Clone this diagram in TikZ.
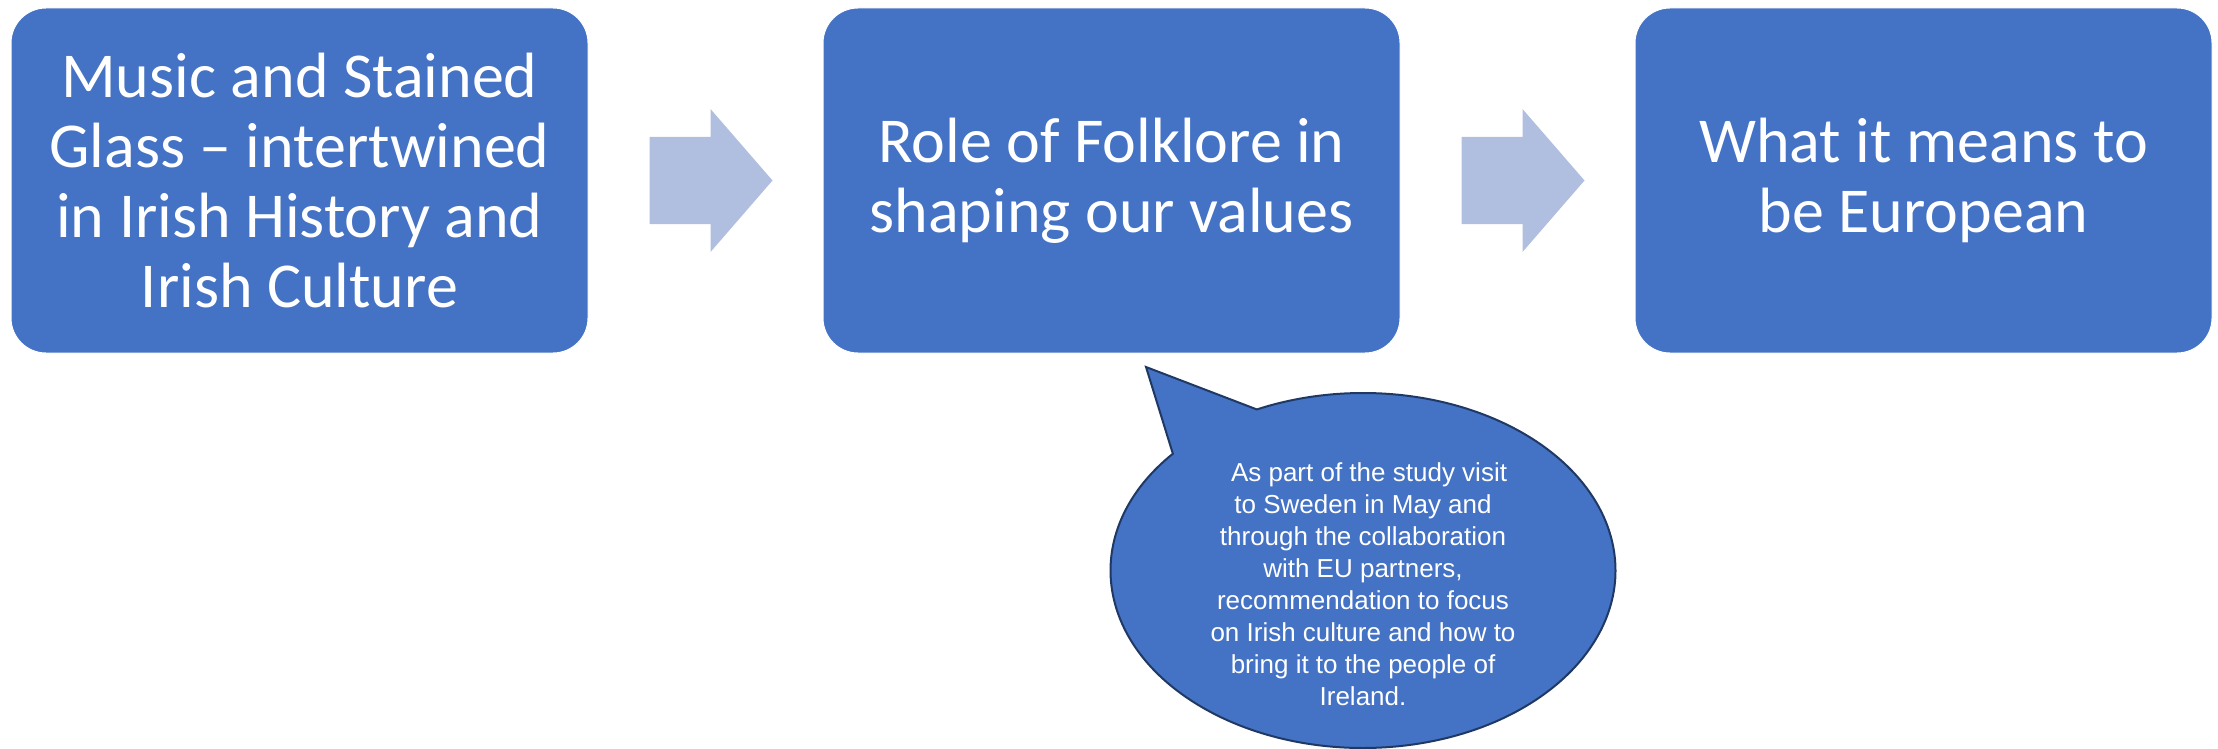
\documentclass[tikz,border=0pt]{standalone}
\usepackage{fontspec}
\setmainfont{Carlito}
\newfontfamily\calloutfont{Liberation Sans}
\usetikzlibrary{calc,shapes.callouts,positioning}

\definecolor{boxblue}{RGB}{68,114,196}
\definecolor{arrowblue}{RGB}{176,190,224}
\definecolor{rimblue}{RGB}{32,56,100}

\tikzset{
    stagebox/.style={fill=boxblue, draw=white, line width=1pt, rounded corners=35pt,
        minimum width=577pt, minimum height=345pt, inner sep=0pt, align=center,
        text=white, font=\fontsize{64}{70}\selectfont},
    flowarrow/.style={fill=arrowblue},
    bubble/.style={ellipse callout, fill=boxblue, draw=rimblue, line width=2pt,
        minimum width=505pt, minimum height=355pt, inner sep=0pt,
        callout pointer arc=24},
}

\begin{document}
\begin{tikzpicture}[x=1pt,y=-1pt]
            \useasboundingbox (0,0) rectangle (2218,749);
            \node[stagebox] (music) at (299.5,180.5)
                {Music and Stained\\Glass -- intertwined\\in Irish History and\\Irish Culture};
            \node[stagebox] (folklore) at (1111.5,180.5)
                {Role of Folklore in\\shaping our values};
            \node[stagebox] (european) at (1923.5,180.5)
                {What it means to\\be European};
            % block arrows between the stages
            \foreach \from in {music,folklore}
                {
                \fill[flowarrow] ($(\from.east)+(61,-43.5)$) -- ++(61,0) -- ++(0,-28)
                    -- ++(62,71.5) -- ++(-62,71.5) -- ++(0,-28) -- ++(-61,0) -- cycle;
                }
            \coordinate (tip) at (1146,367);
            \node[bubble, callout absolute pointer={(tip)}] (note) at (1363,570.5) {};
            \node[text=white, align=center, font=\calloutfont\fontsize{26}{32}\selectfont]
                (notetext) at (1363,584)
                {\hspace*{12pt}As part of the study visit\\to Sweden in May and\\through the collaboration\\with EU partners,\\recommendation to focus\\on Irish culture and how to\\bring it to the people of\\Ireland.};
        \end{tikzpicture}
\end{document}
